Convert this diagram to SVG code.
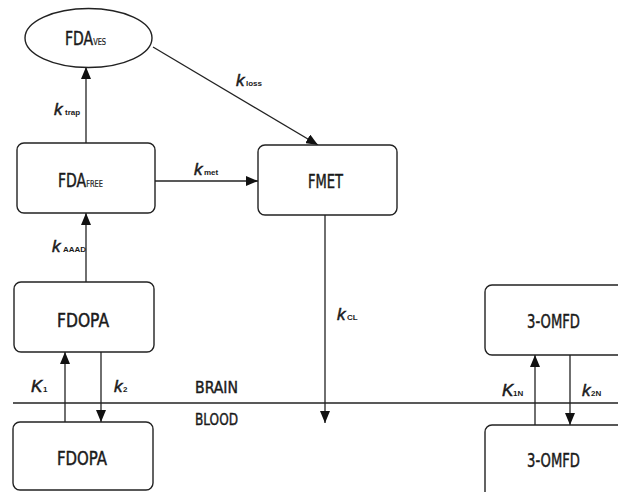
<svg xmlns="http://www.w3.org/2000/svg" width="618" height="492" viewBox="0 0 618 492">
<style>
.box{fill:#fff;stroke:#222;stroke-width:1.4}
.ln{fill:none;stroke:#222;stroke-width:1.3}
.t{font-family:"Liberation Sans Narrow","DejaVu Sans Condensed","Liberation Sans",sans-serif;font-size:19px;fill:#1a1a1a;stroke:#1a1a1a;stroke-width:0.45}
.sub{font-size:9px;stroke-width:0.2}
.k{font-family:"Liberation Sans","DejaVu Sans",sans-serif;font-style:italic;font-size:17px;fill:#1a1a1a;stroke:#1a1a1a;stroke-width:0.5}
.ks{font-family:"Liberation Sans","DejaVu Sans",sans-serif;font-size:8px;font-weight:bold;fill:#1a1a1a}
.lab{font-family:"Liberation Sans Narrow","DejaVu Sans Condensed","Liberation Sans",sans-serif;font-size:16px;fill:#1a1a1a;stroke:#1a1a1a;stroke-width:0.4}
</style>
<defs>
<marker id="ah" markerUnits="userSpaceOnUse" markerWidth="12" markerHeight="10" refX="12" refY="5" orient="auto">
<path d="M0,0 L12,5 L0,10 z" fill="#111"/>
</marker>
</defs>
<rect width="618" height="492" fill="#fff"/>

<g id="connectors">
<line class="ln" x1="13" y1="403" x2="618" y2="403"/>
<line class="ln" x1="86" y1="143" x2="86" y2="67" marker-end="url(#ah)"/>
<line class="ln" x1="153" y1="47" x2="318" y2="145" marker-end="url(#ah)"/>
<line class="ln" x1="155" y1="181" x2="258" y2="181" marker-end="url(#ah)"/>
<line class="ln" x1="86" y1="282" x2="86" y2="213" marker-end="url(#ah)"/>
<line class="ln" x1="65" y1="422" x2="65" y2="352" marker-end="url(#ah)"/>
<line class="ln" x1="101" y1="352" x2="101" y2="422" marker-end="url(#ah)"/>
<line class="ln" x1="325" y1="215" x2="325" y2="423" marker-end="url(#ah)"/>
<line class="ln" x1="535" y1="425" x2="535" y2="355" marker-end="url(#ah)"/>
<line class="ln" x1="570" y1="355" x2="570" y2="425" marker-end="url(#ah)"/>
</g>

<g id="labels">
<text class="k" x="54" y="115">k</text><text class="ks" x="65" y="115">trap</text>
<text class="k" x="236" y="86">k</text><text class="ks" x="246" y="86">loss</text>
<text class="k" x="194" y="175">k</text><text class="ks" x="204" y="175">met</text>
<text class="k" x="52" y="252">k</text><text class="ks" x="63" y="252">AAAD</text>
<text class="k" x="31" y="392">K</text><text class="ks" x="43" y="392">1</text>
<text class="k" x="114" y="392">k</text><text class="ks" x="123" y="392">2</text>
<text class="k" x="337" y="320">k</text><text class="ks" x="347" y="320">CL</text>
<text class="k" x="502" y="396">K</text><text class="ks" x="513" y="396">1N</text>
<text class="k" x="582" y="396">k</text><text class="ks" x="591" y="396">2N</text>
<text class="lab" x="195" y="393" textLength="43" lengthAdjust="spacingAndGlyphs">BRAIN</text>
<text class="lab" x="195" y="425" textLength="43" lengthAdjust="spacingAndGlyphs">BLOOD</text>
</g>

<g id="FDA_VES">
<ellipse class="box" cx="88.5" cy="38" rx="63.5" ry="29.5"/>
<text class="t" transform="translate(65 45) scale(0.82 1)">FDA<tspan class="sub">VES</tspan></text>
</g>

<g id="FDA_FREE">
<rect class="box" x="17" y="143" width="138" height="70" rx="7"/>
<text class="t" transform="translate(58 187) scale(0.82 1)">FDA<tspan class="sub">FREE</tspan></text>
</g>

<g id="FMET">
<rect class="box" x="258" y="145" width="139" height="70" rx="7"/>
<text class="t" x="308" y="188" textLength="35" lengthAdjust="spacingAndGlyphs">FMET</text>
</g>

<g id="FDOPA_brain">
<rect class="box" x="14" y="282" width="140" height="70" rx="7"/>
<text class="t" x="57" y="327" textLength="52" lengthAdjust="spacingAndGlyphs">FDOPA</text>
</g>

<g id="FDOPA_blood">
<rect class="box" x="13" y="422" width="140" height="68" rx="7"/>
<text class="t" x="57" y="465" textLength="50" lengthAdjust="spacingAndGlyphs">FDOPA</text>
</g>

<g id="OMFD_brain">
<rect class="box" x="485" y="285" width="140" height="70" rx="7"/>
<text class="t" x="527" y="328" textLength="53" lengthAdjust="spacingAndGlyphs">3-OMFD</text>
</g>

<g id="OMFD_blood">
<rect class="box" x="485" y="425" width="140" height="75" rx="7"/>
<text class="t" x="527" y="467" textLength="53" lengthAdjust="spacingAndGlyphs">3-OMFD</text>
</g>
</svg>
